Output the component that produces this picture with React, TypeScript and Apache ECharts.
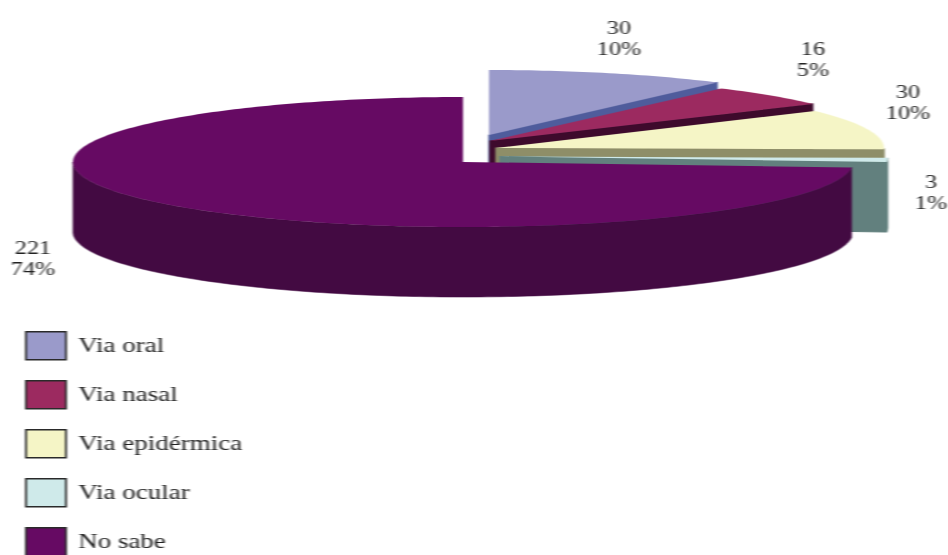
import React, { useEffect, useRef } from "react";
import * as echarts from "echarts";

const categories = ["Via oral", "Via nasal", "Via epidérmica", "Via ocular", "No sabe"];
const values = [30, 16, 30, 3, 221];

const topColors = ["#9a9aca", "#9c2a60", "#f5f5c6", "#cfeaea", "#660a63"];
const sideColors = ["#4f5c9c", "#3e0a2c", "#8e8e68", "#62807e", "#430a42"];

// Layout in page pixels: exploded apex of every slice, radius, label centre
const STRETCH = 1.35;
const apexX = [489, 490, 496, 500, 463];
const apexY = [135, 141, 148, 156.5, 162];
const radiusX = [388, 393, 388, 388, 390];
const RY = 65;
const DEPTH = 70;
const labelX = [619, 813, 908, 931, 33];
const labelY = [39, 60, 103, 193, 259];

const total = values.reduce((a, b) => a + b, 0);

function App() {
  const ref = useRef<HTMLDivElement>(null);
  useEffect(() => {
    const chart = echarts.init(ref.current!, null, { renderer: "svg" });
    const pt = (x: number, y: number) => [x / STRETCH, y];
    const series = categories.map((name, i) => {
      const before = values.slice(0, i).reduce((a, b) => a + b, 0);
      return {
        type: "custom",
        name,
        coordinateSystem: "none",
        z: 2 + i,
        itemStyle: { color: topColors[i] },
        data: [[values[i]]],
        renderItem: (_p: any, api: any) => {
          const v = api.value(0);
          const a0 = (before / total) * 360;
          const a1 = a0 + (v / total) * 360;
          const cx = apexX[i];
          const cy = apexY[i];
          const rx = radiusX[i];
          const at = (deg: number, dy = 0) => {
            const t = (deg * Math.PI) / 180;
            return pt(cx + rx * Math.sin(t), cy - RY * Math.cos(t) + dy);
          };
          const arc = (from: number, to: number, dy = 0) => {
            const out: number[][] = [];
            const n = Math.max(2, Math.ceil(to - from));
            for (let k = 0; k <= n; k++) out.push(at(from + ((to - from) * k) / n, dy));
            return out;
          };
          const children: any[] = [];
          // radial end face, visible when the slice ends in the right half
          if (a1 < 180) {
            children.push({
              type: "polygon",
              shape: {
                points: [pt(cx, cy), at(a1), at(a1, DEPTH), pt(cx, cy + DEPTH)],
              },
              style: { fill: sideColors[i], stroke: sideColors[i], lineWidth: 1 },
            });
          }
          // outer wall, visible on the front half
          const f0 = Math.max(a0, 90);
          const f1 = Math.min(a1, 270);
          if (f1 > f0) {
            children.push({
              type: "polygon",
              shape: { points: [...arc(f0, f1), ...arc(f0, f1, DEPTH).reverse()] },
              style: { fill: sideColors[i], stroke: sideColors[i], lineWidth: 0.5 },
            });
          }
          // top face
          children.push({
            type: "polygon",
            shape: { points: [pt(cx, cy), ...arc(a0, a1)] },
            style: { fill: topColors[i] },
          });
          const [lx, ly] = pt(labelX[i], labelY[i]);
          children.push({
            type: "text",
            x: lx,
            y: ly,
            z2: 50,
            style: {
              text: `${v}\n${Math.round((v / total) * 100)}%`,
              fontFamily: "Liberation Serif",
              fontSize: 18,
              lineHeight: 21,
              fill: "#222222",
              align: "center",
              verticalAlign: "middle",
            },
          });
          return { type: "group", children };
        },
      };
    });
    chart.setOption({
      animation: false,
      backgroundColor: "#ffffff",
      tooltip: { show: false },
      legend: {
        show: true,
        orient: "vertical",
        left: 25 / STRETCH,
        top: 331,
        height: 300,
        padding: 0,
        data: categories,
        icon: "rect",
        itemWidth: 40 / STRETCH,
        itemHeight: 28,
        itemGap: 19.5,
        selectedMode: false,
        itemStyle: { borderColor: "#2a2a2a", borderWidth: 1.5 },
        textStyle: {
          fontFamily: "Liberation Serif",
          fontSize: 20,
          color: "#222222",
          padding: [0, 0, 0, 4],
        },
      },
      series,
    } as any);
    return () => chart.dispose();
  }, []);
  return (
    <div
      ref={ref}
      style={{
        position: "absolute",
        left: 0,
        top: 0,
        width: 948 / STRETCH,
        height: 555,
        transform: `scaleX(${STRETCH})`,
        transformOrigin: "0 0",
        filter: "blur(0.6px)",
      }}
    />
  );
}

export default App;
